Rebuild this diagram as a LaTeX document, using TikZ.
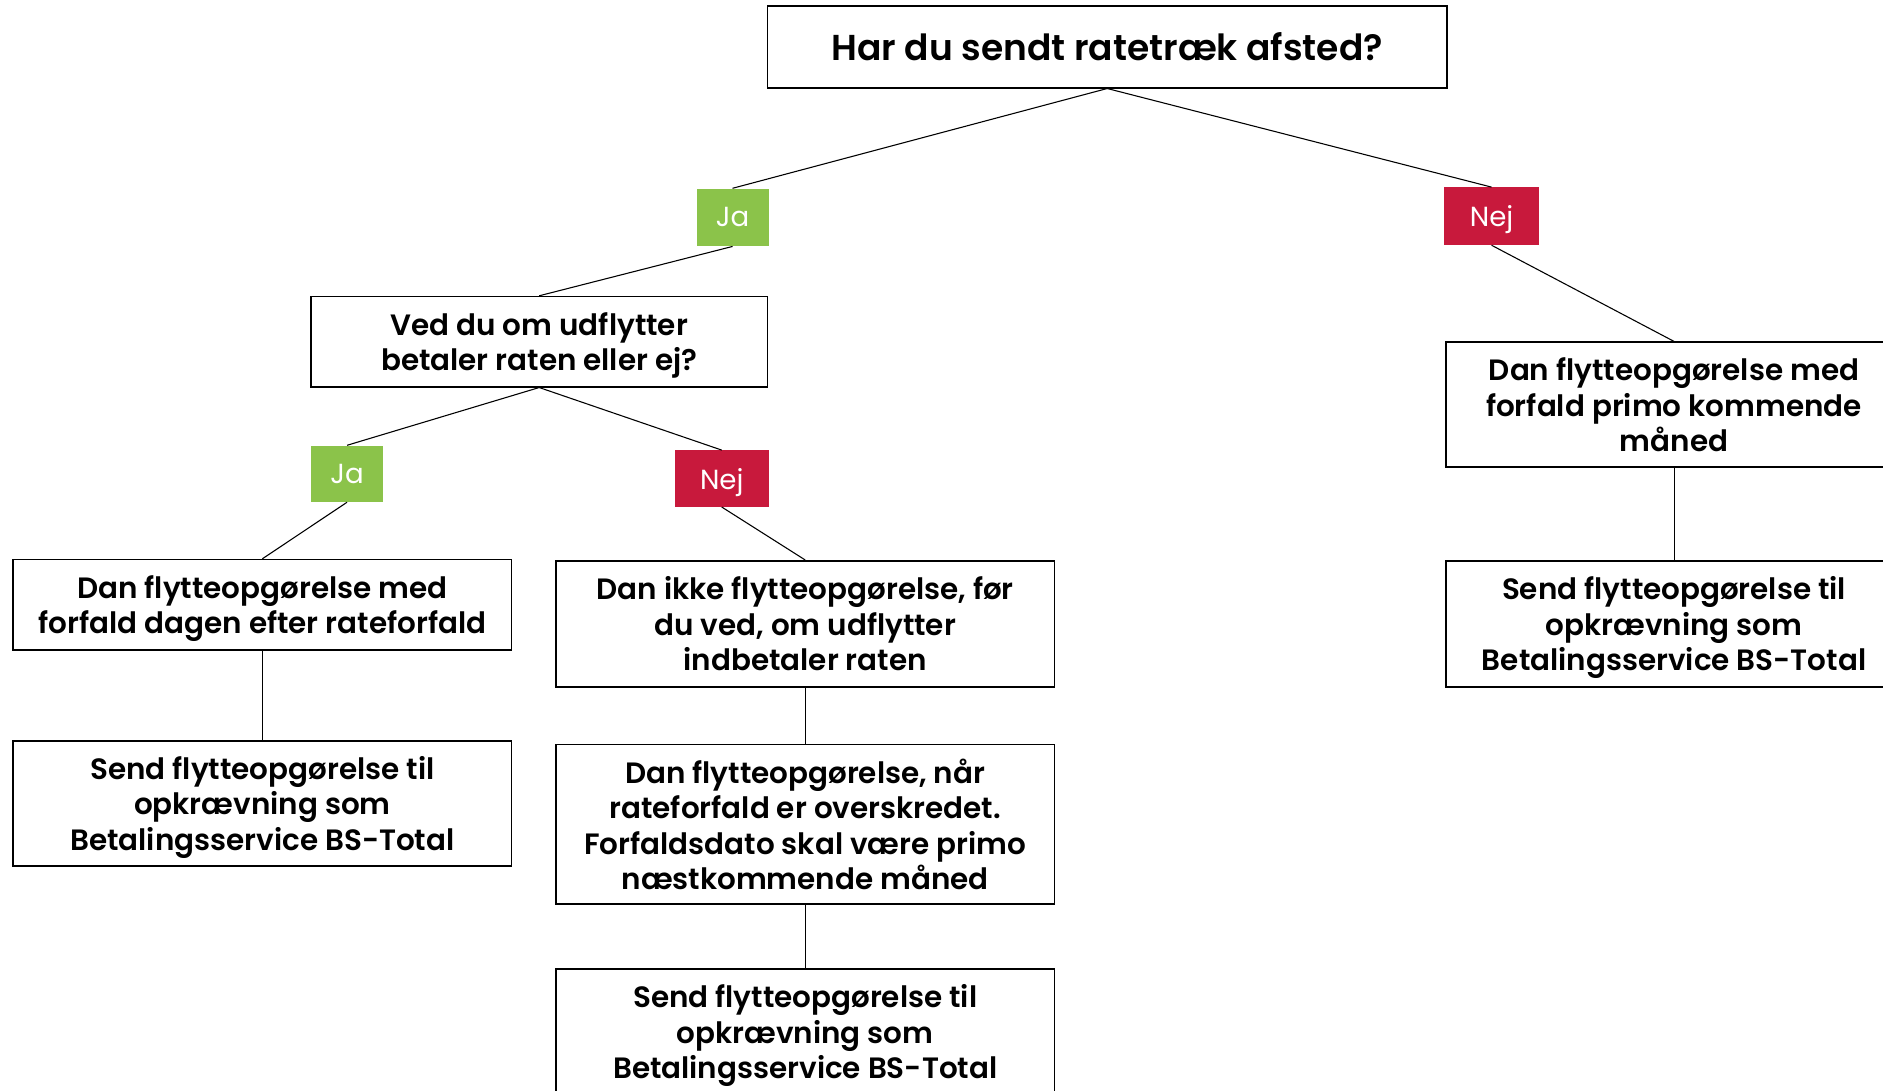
\documentclass[tikz,border=0pt]{standalone}
\usepackage{fontspec}
\setmainfont{Poppins}
\newfontfamily\semib{Poppins SemiBold}
\definecolor{jagreen}{HTML}{8BC34A}
\definecolor{nejred}{HTML}{C8193C}
\begin{document}
\begin{tikzpicture}[x=1pt,y=-1pt,
  box/.style={draw=black, line width=1.4pt, fill=white, inner sep=0pt, align=center, text depth=0pt,
    font=\fontsize{24.5}{29.5}\selectfont\semib},
  jatag/.style={fill=jagreen, inner sep=0pt, minimum width=60pt, minimum height=48pt, text=white, text depth=0pt,
    font=\fontsize{23}{26}\selectfont},
  nejtag/.style={fill=nejred, inner sep=0pt, minimum width=79pt, minimum height=48pt, text=white, text depth=0pt,
    font=\fontsize{23}{26}\selectfont},
  link/.style={line width=0.9pt}]
\useasboundingbox (0,0) rectangle (1568,908);
\clip (0,0) rectangle (1568,908);
\fill[white] (0,0) rectangle (1568,908);
% nodes
\node[box, minimum width=566pt, minimum height=68pt, font=\fontsize{30}{32}\selectfont\semib] (q1) at (922,39) {Har du sendt ratetræk afsted?};
\node[jatag] (ja1) at (610,181) {Ja};
\node[nejtag] (nej1) at (1242,180) {Nej};
\node[box, minimum width=380pt, minimum height=75pt] (q2) at (449,284.5) {Ved du om udflytter\\betaler raten eller ej?};
\node[jatag, minimum height=47pt] (ja2) at (289,394.5) {Ja};
\node[nejtag, minimum width=78pt, minimum height=47pt] (nej2) at (601,398.5) {Nej};
\node[box, minimum width=415pt, minimum height=75pt] (l1) at (218.5,503.5) {Dan flytteopgørelse med\\forfald dagen efter rateforfald};
\node[box, minimum width=415pt, minimum height=104pt] (l2) at (218.5,669) {Send flytteopgørelse til\\opkrævning som\\Betalingsservice BS-Total};
\node[box, minimum width=415pt, minimum height=105pt] (m1) at (670.5,519.5) {Dan ikke flytteopgørelse, før\\du ved, om udflytter\\indbetaler raten};
\node[box, minimum width=415pt, minimum height=133pt] (m2) at (670.5,686.5) {Dan flytteopgørelse, når\\rateforfald er overskredet.\\Forfaldsdato skal være primo\\næstkommende måned};
\node[box, minimum width=415pt, minimum height=104pt] (m3) at (670.5,859) {Send flytteopgørelse til\\opkrævning som\\Betalingsservice BS-Total};
\node[box, minimum width=380pt, minimum height=104pt] (r1) at (1394,337) {Dan flytteopgørelse med\\forfald primo kommende\\måned};
\node[box, minimum width=380pt, minimum height=105pt] (r2) at (1394,519.5) {Send flytteopgørelse til\\opkrævning som\\Betalingsservice BS-Total};
% connectors
\draw[link] (q1.south) -- (ja1.north);
\draw[link] (q1.south) -- (nej1.north);
\draw[link] (ja1.south) -- (q2.north);
\draw[link] (q2.south) -- (ja2.north);
\draw[link] (q2.south) -- (nej2.north);
\draw[link] (ja2.south) -- (l1.north);
\draw[link] (nej2.south) -- (m1.north);
\draw[link] (l1.south) -- (l2.north);
\draw[link] (m1.south) -- (m2.north);
\draw[link] (m2.south) -- (m3.north);
\draw[link] (nej1.south) -- (r1.north);
\draw[link] (r1.south) -- (r2.north);
\end{tikzpicture}
\end{document}
